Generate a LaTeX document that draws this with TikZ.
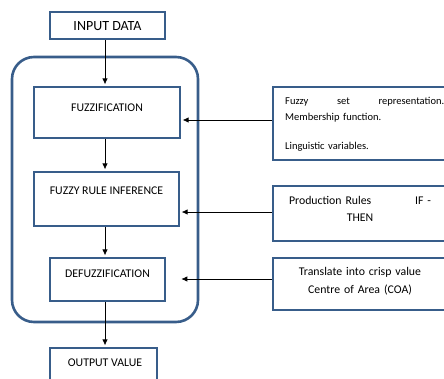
\documentclass[tikz,border=0pt]{standalone}
\usepackage{fontspec}
\setmainfont{Carlito}
\usetikzlibrary{arrows.meta}
\definecolor{boxblue}{HTML}{385D8A}
\tikzstyle{block}=[draw=boxblue,line width=2.6pt,inner sep=0pt]
\tikzstyle{edge}=[draw,line width=0.8pt,shorten >=1.3pt,-{Latex[length=6pt,width=5.5pt]}]
\tikzstyle{caption}=[font=\fontsize{11.8}{14}\selectfont,inner sep=0pt,anchor=base]
\tikzstyle{note}=[inner sep=0pt,anchor=base,align=center]

\begin{document}
\begin{tikzpicture}[x=1pt,y=-1pt]
  \useasboundingbox (0,0) rectangle (444,378);

  % outer frame round the three steps
  \node[block,rounded corners=22pt,minimum width=186pt,minimum height=265pt] (engine) at (105,189.5) {};

  \foreach \x/\y/\w/\h/\name in {107.5/25.5/115/27/input, 107/112.5/146/51/fuzz, 106.5/199/145/54/fri, 107.5/279.5/115/43/defuzz, 103.5/369/107/42/output}
          \node[block,minimum width=\w pt,minimum height=\h pt] (\name) at (\x,\y) {};

  \node[caption,font=\fontsize{14}{16}\selectfont] (inputtxt) at (107.5,30.5) {INPUT DATA};
  \foreach \x/\y/\name/\txt in {107/111/fuzztxt/FUZZIFICATION, 106.5/194/fritxt/FUZZY RULE INFERENCE, 107.5/277/defuzztxt/DEFUZZIFICATION, 105/366/outputtxt/OUTPUT VALUE}
          \node[caption] (\name) at (\x,\y) {\txt};

  % boxes on the right
  \foreach \y/\h/\name in {123.5/73/src1, 213.5/55/src2, 284/52/src3}
          \node[block,minimum width=178pt,minimum height=\h pt] (\name) at (362,\y) {};

  \node[note,anchor=base west,text width=159pt,align=left,font=\fontsize{10.5}{16}\selectfont] (src1txt) at (285,104) {Fuzzy\hfill set\hfill representation.\\Membership function.\\[13pt]Linguistic variables.};
  \node[note,text width=142pt,font=\fontsize{11.8}{17}\selectfont] (src2txt) at (360,204) {Production Rules\hfill IF -\\THEN};
  \node[note,text width=150pt,font=\fontsize{11.8}{18}\selectfont] (src3txt) at (360,275) {Translate into crisp value\\Centre of Area (COA)};

  \coordinate (defin) at (180,279);

  \foreach \source/\dest in {input/fuzz, fuzz/fri, fri/defuzz, defuzz/output}
         \path[edge] (\source.south -| 105,0) -- (\dest.north -| 105,0);

  \foreach \source/\dest/\y in {src1/fuzz.east/120, src2/fri.east/212, src3/defin/279}
         \path[edge] (\source.west |- 0,\y) -- (\dest |- 0,\y);

\end{tikzpicture}
\end{document}
